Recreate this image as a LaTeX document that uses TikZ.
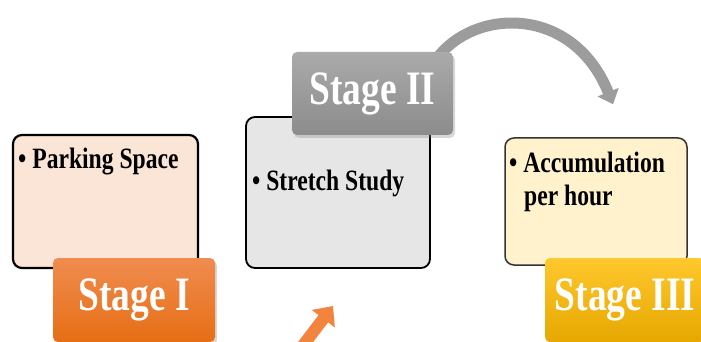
\documentclass[tikz,border=0pt]{standalone}
\usepackage{fontspec}
\setmainfont{Liberation Serif}
\newfontfamily\cond[FakeStretch=0.78]{Liberation Serif}
\newfontfamily\condb[FakeStretch=0.8]{Liberation Serif}
\usetikzlibrary{arrows.meta,shadows}
\definecolor{peach}{HTML}{FBE5D6}
\definecolor{lightgray}{HTML}{E7E6E6}
\definecolor{cream}{HTML}{FFF2CC}
\definecolor{orangeT}{HTML}{F08C50}
\definecolor{orangeB}{HTML}{E66E14}
\definecolor{grayT}{HTML}{AAAAAA}
\definecolor{grayB}{HTML}{8C8C8C}
\definecolor{yellowT}{HTML}{FFC82E}
\definecolor{yellowB}{HTML}{E6A700}
\definecolor{arrowgray}{HTML}{9C9C9C}
\definecolor{arroworange}{HTML}{F2843E}
\pgfdeclarelayer{background}
\pgfsetlayers{background,main}
\tikzset{
  infobox/.style={draw=black, rounded corners=9pt, line width=2.2pt, inner sep=0pt},
  stagebox/.style={rounded corners=5pt, inner sep=0pt, text=white,
    font=\cond\bfseries\fontsize{48}{48}\selectfont,
    drop shadow={opacity=0.3, shadow xshift=2pt, shadow yshift=-3pt}},
  bullettext/.style={font=\condb\bfseries\fontsize{29.5}{33}\selectfont, anchor=base west, inner sep=0pt},
  grayarrow/.style={line width=11pt, draw=arrowgray, -{Triangle[width=22pt,length=13pt]}},
  orangearrow/.style={line width=12pt, draw=arroworange, -{Triangle[width=28pt,length=16pt]}}
}
\begin{document}
\begin{tikzpicture}[x=1pt,y=-1pt]
\useasboundingbox (0,0) rectangle (701,342);
\clip (0,0) rectangle (701,342);
% info boxes
\node[infobox, fill=peach, minimum width=185pt, minimum height=133pt] (b1) at (105.5,201.5) {};
\node[infobox, fill=lightgray, line width=1.8pt, minimum width=184pt, minimum height=151pt] (b2) at (338,192.5) {};
\node[infobox, fill=cream, draw=black!80, line width=1.5pt, minimum width=182pt, minimum height=127pt] (b3) at (596,201.5) {};
\node[bullettext] (t1) at (18,168) {• Parking Space};
\node[bullettext] (t2) at (252,190) {• Stretch Study};
\node[bullettext] (t3) at (509,172) {• Accumulation};
\node[bullettext] (t3b) at (524,205) {per hour};
% stage labels
\node[stagebox, top color=orangeT, bottom color=orangeB, minimum width=162pt, minimum height=84pt] (s1) at (134,300) {Stage I};
\node[stagebox, top color=grayT, bottom color=grayB, minimum width=161pt, minimum height=83pt] (s2) at (372.5,93.5) {Stage II};
\node[stagebox, top color=yellowT, bottom color=yellowB, minimum width=160pt, minimum height=84pt] (s3) at (625,300) {Stage III};
% arrows
\coordinate (a2e) at ([shift={(17,-33)}]b3.north);
\coordinate (a1s) at (298,352);
\coordinate (a1e) at (333,306);
\begin{pgfonlayer}{background}
\fill[white] (0,0) rectangle (701,342);
\draw[grayarrow] ([shift={(-20,12)}]s2.north east) .. controls (468,8) and (572,2) .. (a2e);
\end{pgfonlayer}
\draw[orangearrow] (a1s) -- (a1e);
\end{tikzpicture}
\end{document}
